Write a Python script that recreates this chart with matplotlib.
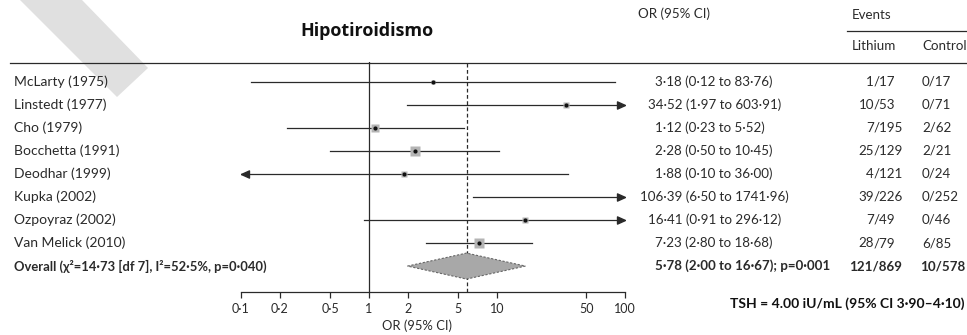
"""Forest plot: lithium and hypothyroidism (Hipotiroidismo)."""
import matplotlib

matplotlib.use("Agg")
import matplotlib.pyplot as plt
from matplotlib.lines import Line2D
from matplotlib.patches import Polygon
from matplotlib.path import Path
from matplotlib.transforms import blended_transform_factory

studies = ["McLarty (1975)", "Linstedt (1977)", "Cho (1979)", "Bocchetta (1991)",
           "Deodhar (1999)", "Kupka (2002)", "Ozpoyraz (2002)", "Van Melick (2010)"]
odds = [3.18, 34.52, 1.12, 2.28, 1.88, 106.39, 16.41, 7.23]
lower = [0.12, 1.97, 0.23, 0.50, 0.10, 6.50, 0.91, 2.80]
upper = [83.76, 603.91, 5.52, 10.45, 36.00, 1741.96, 296.12, 18.68]
weights = [5, 8, 17, 22, 8, 8, 8, 26]
lithium = ["1/17", "10/53", "7/195", "25/129", "4/121", "39/226", "7/49", "28/79"]
control = ["0/17", "0/71", "2/62", "2/21", "0/24", "0/252", "0/46", "6/85"]

overall_label = "Overall (χ²=14·73 [df 7], I²=52·5%, p=0·040)"
overall_or, overall_lo, overall_hi = 5.78, 2.00, 16.67
overall_text = "5·78 (2·00 to 16·67); p=0·001"
overall_events = ("121/869", "10/578")

ticks = [0.1, 0.2, 0.5, 1, 2, 5, 10, 50, 100]
XMIN, XMAX = 0.1, 100

W, H = 967, 335
FONT = ["Lato", "DejaVu Sans"]
FS = 10          # study labels
FN = 9.6         # numeric columns
INK = "#2a2a2a"


def fx(px):
    return px / W


def fy(py):
    return 1 - py / H


def num(v):
    return f"{v:.2f}".replace(".", "·")


fig = plt.figure(figsize=(W / 100, H / 100), dpi=100)
plt.rcParams["font.family"] = FONT

# light diagonal band in the top-left corner, behind everything
band = [(20, 0), (82, 0), (148, 68), (117, 97)]
fig.patches.append(Polygon([(fx(x), fy(y)) for x, y in band], closed=True,
                           transform=fig.transFigure, facecolor="#e0e0e0",
                           edgecolor="none", zorder=-5))

row0, step = 81.6, 23.06
ax = fig.add_axes([fx(241), fy(292), fx(625) - fx(241), (292 - 62) / H])
ax.set_xscale("log")
ax.set_xlim(XMIN, XMAX)
ax.set_ylim((292 - row0) / step, (62 - row0) / step)
ax.patch.set_alpha(0)
for s in ["top", "left", "right"]:
    ax.spines[s].set_visible(False)
ax.spines["bottom"].set_linewidth(0.9)
ax.spines["bottom"].set_color(INK)
ax.set_yticks([])
ax.set_xticks(ticks)
ax.set_xticklabels([f"{t:g}".replace(".", "·") for t in ticks])
ax.minorticks_off()
ax.tick_params(axis="x", direction="out", length=4, width=0.9, color=INK,
               labelsize=9, labelcolor=INK, pad=4)
for lab in ax.get_xticklabels():
    lab.set_family(FONT)

ax.axvline(1, color=INK, lw=0.9, zorder=1)
ax.axvline(overall_or, color=INK, lw=0.9, ls=(0, (3, 2)), zorder=1)

right_tip = Path([(0, 0), (-1, 0.45), (-1, -0.45), (0, 0)])
left_tip = Path([(0, 0), (1, 0.45), (1, -0.45), (0, 0)])

for i in range(len(studies)):
    lo, hi = max(lower[i], XMIN), min(upper[i], XMAX)
    ax.plot([lo, hi], [i, i], color=INK, lw=0.9, zorder=2)
    if upper[i] > XMAX:
        ax.plot([XMAX], [i], marker=right_tip, ms=11.5, color=INK,
                clip_on=False, zorder=3)
    if lower[i] <= XMIN and upper[i] < XMAX and odds[i] < 2:
        ax.plot([XMIN], [i], marker=left_tip, ms=11.5, color=INK,
                clip_on=False, zorder=3)
    if odds[i] <= XMAX:
        side = 1.96 * weights[i] ** 0.5
        ax.plot([odds[i]], [i], marker="s", ms=side * 0.72, color="#b4b4b4",
                mec="none", zorder=3)
        ax.plot([odds[i]], [i], marker="o", ms=3.0, color="#111111",
                mec="none", zorder=4)

n = len(studies)
h = 13 / step
ax.add_patch(Polygon([(overall_lo, n), (overall_or, n - h), (overall_hi, n),
                      (overall_or, n + h)], closed=True, facecolor="#a8a8a8",
                     edgecolor="#666666", lw=0.8, ls=(0, (2, 1.5)), zorder=2))

# text columns
tr = blended_transform_factory(fig.transFigure, ax.transData)


def events(x, y, value, **kw):
    # align on the slash
    top, bottom = value.split("/")
    ax.text(fx(x), y, top, transform=tr, ha="right", va="center", **kw)
    ax.text(fx(x), y, "/" + bottom, transform=tr, ha="left", va="center", **kw)


for i, name in enumerate(studies):
    ax.text(fx(14), i, name, transform=tr, ha="left", va="center",
            fontsize=FS, color=INK)
    digits = len(str(int(odds[i])))
    ci = f"{num(odds[i])} ({num(lower[i])} to {num(upper[i])})"
    ax.text(fx(663 - 7.6 * digits), i, ci, transform=tr, ha="left",
            va="center", fontsize=FN, color=INK)
    events(874, i, lithium[i], fontsize=FN, color=INK)
    ax.text(fx(922), i, control[i], transform=tr, ha="left", va="center",
            fontsize=FN, color=INK)

ax.text(fx(14), n, overall_label, transform=tr, ha="left", va="center",
        fontsize=9.4, fontweight="bold", color=INK)
ax.text(fx(663 - 7.6), n, overall_text, transform=tr, ha="left", va="center",
        fontsize=FN, fontweight="bold", color=INK)
ax.text(fx(876), n, overall_events[0], transform=tr, ha="center",
        va="center", fontsize=FN, fontweight="bold", color=INK)
ax.text(fx(920), n, overall_events[1], transform=tr, ha="left", va="center",
        fontsize=FN, fontweight="bold", color=INK)

# headers and rules
fig.text(fx(367), fy(31.5), "Hipotiroidismo", ha="center", va="center",
         fontsize=13, fontweight="bold", family=["Open Sans", "DejaVu Sans"],
         color="#111111")
fig.text(fx(638), fy(14), "OR (95% CI)", ha="left", va="center",
         fontsize=FN, color=INK)
fig.text(fx(852), fy(15), "Events", ha="left", va="center", fontsize=FN,
         color=INK)
fig.text(fx(852), fy(46), "Lithium", ha="left", va="center", fontsize=FN,
         color=INK)
fig.text(fx(922), fy(46), "Control", ha="left", va="center", fontsize=FN,
         color=INK)
fig.add_artist(Line2D([fx(10), 1], [fy(62.5), fy(62.5)], color=INK, lw=0.9))
fig.add_artist(Line2D([fx(847), 1], [fy(31), fy(31)], color=INK, lw=0.9))

fig.text(fx(417), fy(326), "OR (95% CI)", ha="center", va="center",
         fontsize=9.4, color=INK)
fig.text(fx(965), fy(304), "TSH = 4.00 iU/mL (95% CI 3·90–4·10)", ha="right",
         va="center", fontsize=10, fontweight="bold", color="#111111")

fig.savefig("out.png", dpi=100)
